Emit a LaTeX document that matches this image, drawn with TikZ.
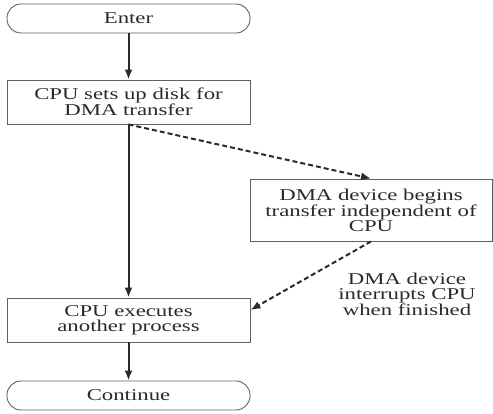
\documentclass[tikz,border=0pt]{standalone}
\usepackage{fontspec}
\setmainfont{Liberation Serif}[FakeStretch=1.38]
\usetikzlibrary{arrows.meta,calc}
\definecolor{ink}{HTML}{2A2A2A}
\definecolor{edge}{HTML}{606060}
\begin{document}
\begin{tikzpicture}[x=1pt,y=-1pt,
  every node/.style={font=\fontsize{16.5}{15}\selectfont, text=ink, align=center, inner sep=0pt},
  pill/.style={draw=edge, line width=0.9pt, rounded corners=14pt, minimum width=243pt, minimum height=29pt},
  box/.style={draw=edge, line width=0.9pt, minimum width=243pt},
  flow/.style={draw=ink, line width=2pt, -{Latex[length=10pt,width=8pt]}},
  dflow/.style={draw=ink, line width=2pt, dash pattern=on 5pt off 3pt, -{Latex[length=10pt,width=8pt]}}]
\useasboundingbox (0,0) rectangle (493,414);
\node[pill] (enter) at (128.5,18.5) {Enter};
\node[box, minimum height=44pt] (setup) at (128.5,102) {CPU sets up disk for\\DMA transfer};
\node[box, minimum width=242pt, minimum height=62pt] (dma) at (371,210) {DMA device begins\\transfer independent of\\CPU};
\node[box, minimum height=44pt] (exec) at (128.5,320) {CPU executes\\another process};
\node[pill] (cont) at (128.5,395.5) {Continue};
\node (lbl) at (407,294) {DMA device\\interrupts CPU\\when finished};
\coordinate (tip) at ($(exec.east)+(0,-10)$);
\draw[flow] (enter.south) -- (setup.north);
\draw[flow] (setup.south) -- (exec.north);
\draw[dflow] (setup.south) -- (dma.north);
\draw[dflow] (dma.south) -- (tip);
\draw[flow] (exec.south) -- (cont.north);
\end{tikzpicture}
\end{document}
